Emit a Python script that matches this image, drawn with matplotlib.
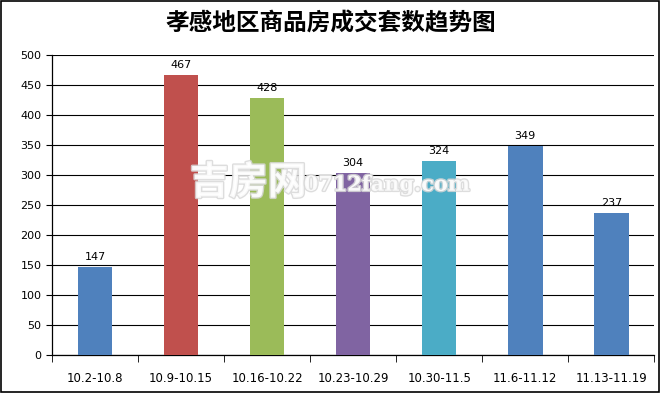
import matplotlib.pyplot as plt
import matplotlib.patheffects as pe

plt.rcParams['font.family'] = ['Noto Sans CJK SC', 'DejaVu Sans']

weeks = ['10.2-10.8', '10.9-10.15', '10.16-10.22', '10.23-10.29',
         '10.30-11.5', '11.6-11.12', '11.13-11.19']
sales = [147, 467, 428, 304, 324, 349, 237]
colors = ['#4F81BD', '#C0504D', '#9BBB59', '#8064A2', '#4BACC6', '#4F81BD', '#4F81BD']

fig = plt.figure(figsize=(6.62, 3.93), dpi=100)
ax = fig.add_axes([0.0785, 0.097, 0.91, 0.763])

x = range(len(weeks))
bars = ax.bar(x, sales, width=0.4, color=colors, zorder=3)
for b, v in zip(bars, sales):
    ax.text(b.get_x() + b.get_width() / 2, v + 8, str(v),
            ha='center', va='bottom', fontsize=8, family='DejaVu Sans', zorder=4)

ax.set_xlim(-0.5, len(weeks) - 0.5)
ax.set_ylim(0, 500)
ax.set_yticks(range(0, 501, 50))
ax.yaxis.grid(True, color='black', linewidth=0.8, zorder=0)
ax.set_xticks(x)
ax.set_xticklabels(weeks, fontsize=8.5, family='DejaVu Sans')
ax.set_xticks([i - 0.5 for i in range(len(weeks) + 1)], minor=True)
ax.tick_params(axis='x', which='major', length=0, pad=12)
ax.tick_params(axis='x', which='minor', length=5, direction='out', color='black')
ax.tick_params(axis='y', length=4, direction='out', labelsize=8)
for lab in ax.get_yticklabels():
    lab.set_family('DejaVu Sans')
ax.spines['top'].set_visible(False)
ax.spines['right'].set_visible(False)
ax.spines['left'].set_linewidth(0.9)
ax.spines['bottom'].set_linewidth(0.9)

fig.text(0.5, 0.94, '孝感地区商品房成交套数趋势图', ha='center', va='center',
         fontsize=17, fontweight='bold')

# watermark
fig.text(0.375, 0.535, '吉房网', ha='center', va='center', fontsize=28, color='white',
         alpha=0.85, fontweight='bold', zorder=10,
         path_effects=[pe.withStroke(linewidth=2, foreground='#d8d8d8')])
fig.text(0.585, 0.53, '0712fang.com', ha='center', va='center', fontsize=15, color='white',
         alpha=0.85, fontweight='bold', family='DejaVu Serif', zorder=10,
         path_effects=[pe.withStroke(linewidth=2, foreground='#d8d8d8')])

fig.patches.append(plt.Rectangle((0.002, 0.003), 0.994, 0.994, transform=fig.transFigure,
                                 fill=False, edgecolor='black', linewidth=1.2))

fig.savefig('out.png', dpi=100)
